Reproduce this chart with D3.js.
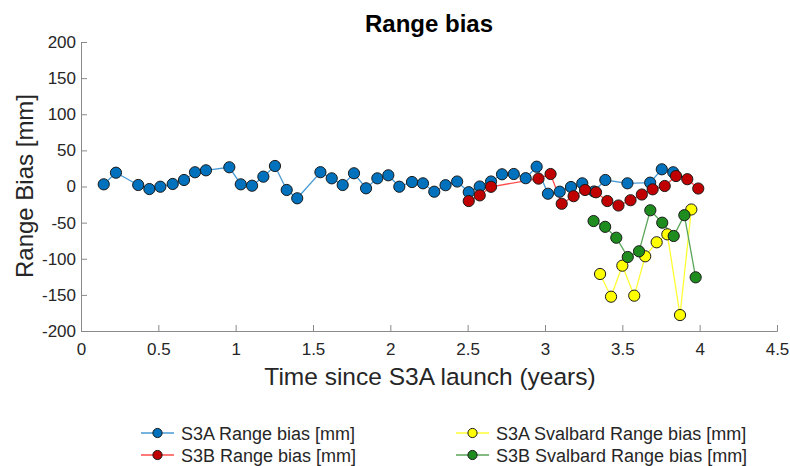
<!DOCTYPE html>
<html lang="en">
<head>
    <meta charset="UTF-8">
    <title>Range bias</title>
    <script src="https://d3js.org/d3.v7.min.js"></script>
    <style>
        body { margin: 0; background: #fff; }
        text { font-family: "Liberation Sans", Arial, sans-serif; fill: #262626; }
    </style>
</head>
<body>
    <div id="chart"></div>
    <script>
        // Years since S3A launch, range bias in mm
        var s3a_t = [0.147, 0.226, 0.370, 0.442, 0.513, 0.593, 0.666, 0.737, 0.808, 0.959,
                     1.033, 1.106, 1.179, 1.254, 1.330, 1.398, 1.548, 1.621, 1.692, 1.765,
                     1.843, 1.916, 1.987, 2.058, 2.140, 2.211, 2.284, 2.357, 2.432, 2.507,
                     2.578, 2.651, 2.722, 2.798, 2.875, 2.946, 3.019, 3.095, 3.168, 3.241,
                     3.317, 3.390, 3.533, 3.680, 3.755, 3.829];
        var s3a_bias = [3.0, 19.1, 2.1, -3.5, -0.3, 3.5, 9.0, 19.7, 22.4, 26.6,
                        3.0, 1.1, 13.6, 28.4, -4.8, -16.3, 19.8, 11.3, 2.1, 18.3,
                        -2.5, 11.3, 15.5, -0.3, 6.2, 4.4, -7.2, 1.8, 6.9, -7.9,
                        0.0, 6.9, 16.9, 17.3, 11.5, 27.4, -10.0, -7.2, -0.7, 4.4,
                        -6.9, 9.0, 4.4, 5.3, 23.8, 19.7];

        var s3b_t = [2.507, 2.578, 2.651, 2.958, 3.036, 3.108, 3.185, 3.259, 3.330, 3.403,
                     3.475, 3.553, 3.626, 3.696, 3.774, 3.847, 3.920, 3.991];
        var s3b_bias = [-20.1, -12.3, -0.4, 10.9, 17.3, -23.9, -13.4, -4.8, -8.0, -20.1,
                        -26.3, -19.0, -11.1, -3.9, 0.7, 14.5, 10.1, -2.8];

        var s3a_sval_t = [3.356, 3.427, 3.500, 3.577, 3.648, 3.722, 3.791, 3.873, 3.946];
        var s3a_sval_bias = [-121.1, -152.5, -109.6, -151.1, -96.6, -77.2, -66.2, -177.9, -31.8];

        var s3b_sval_t = [3.314, 3.389, 3.461, 3.535, 3.608, 3.681, 3.758, 3.832, 3.901, 3.974];
        var s3b_sval_bias = [-47.8, -55.8, -70.9, -97.6, -89.7, -32.9, -50.1, -68.5, -39.7, -125.7];

        var x_ticks = [0, 0.5, 1, 1.5, 2, 2.5, 3, 3.5, 4, 4.5];
        var y_ticks = [-200, -150, -100, -50, 0, 50, 100, 150, 200];

        var series = [
            {name: "S3A Range bias [mm]", t: s3a_t, v: s3a_bias, line: "#4a9ad4", fill: "#0072bd"},
            {name: "S3B Range bias [mm]", t: s3b_t, v: s3b_bias, line: "#ff4d4d", fill: "#c00000"},
            {name: "S3A Svalbard Range bias [mm]", t: s3a_sval_t, v: s3a_sval_bias, line: "#ffff33", fill: "#ffff00"},
            {name: "S3B Svalbard Range bias [mm]", t: s3b_sval_t, v: s3b_sval_bias, line: "#5aa55a", fill: "#1e8c1e"}
        ];

        function draw_chart() {
            var width = 790, height = 466;
            var plot_left = 81, plot_right = 777, plot_top = 42, plot_bottom = 331;

            var svg = d3.select("#chart")
                .append("svg")
                .attr("width", width)
                .attr("height", height);

            var x = d3.scaleLinear().domain([0, 4.5]).range([plot_left, plot_right]);
            var y = d3.scaleLinear().domain([-200, 200]).range([plot_bottom, plot_top]);

            // axes (ticks point inward), plain hyphen for negatives
            var fmt = function(d) { return String(d); };
            var xAxis = svg.append("g")
                .attr("transform", "translate(0," + plot_bottom + ")")
                .call(d3.axisBottom(x).tickValues(x_ticks).tickSize(-6).tickPadding(12).tickFormat(fmt));
            var yAxis = svg.append("g")
                .attr("transform", "translate(" + plot_left + ",0)")
                .call(d3.axisLeft(y).tickValues(y_ticks).tickSize(-6).tickPadding(5).tickFormat(fmt));

            [xAxis, yAxis].forEach(function(g) {
                g.select(".domain").attr("stroke", "#8a8a8a");
                g.selectAll(".tick line").attr("stroke", "#8a8a8a");
                g.selectAll(".tick text").style("font-size", "17px").attr("fill", "#262626")
                    .style("font-family", "'Liberation Sans', Arial, sans-serif");
            });

            // lines and markers
            var line = d3.line()
                .x(function(d) { return x(d[0]); })
                .y(function(d) { return y(d[1]); });

            series.forEach(function(s) {
                var pts = s.t.map(function(t, i) { return [t, s.v[i]]; });
                svg.append("path")
                    .datum(pts)
                    .attr("d", line)
                    .attr("fill", "none")
                    .attr("stroke", s.line)
                    .attr("stroke-width", 1.3);
            });
            series.forEach(function(s) {
                var pts = s.t.map(function(t, i) { return [t, s.v[i]]; });
                svg.selectAll(null)
                    .data(pts)
                    .enter()
                    .append("circle")
                    .attr("cx", function(d) { return x(d[0]); })
                    .attr("cy", function(d) { return y(d[1]); })
                    .attr("r", 5.6)
                    .attr("fill", s.fill)
                    .attr("stroke", "#1a1a1a")
                    .attr("stroke-width", 1);
            });

            // title and labels
            svg.append("text")
                .attr("x", 429).attr("y", 32)
                .attr("text-anchor", "middle")
                .style("font-size", "24px").style("font-weight", "bold")
                .style("fill", "#000")
                .text("Range bias");

            svg.append("text")
                .attr("x", 430).attr("y", 385)
                .attr("text-anchor", "middle")
                .style("font-size", "24.5px")
                .text("Time since S3A launch (years)");

            svg.append("text")
                .attr("transform", "translate(33,186) rotate(-90)")
                .attr("text-anchor", "middle")
                .style("font-size", "24px")
                .text("Range Bias [mm]");

            // legend
            var legendPos = [[141, 433], [141, 455], [456, 433], [456, 455]];
            series.forEach(function(s, i) {
                var lx = legendPos[i][0], ly = legendPos[i][1];
                var g = svg.append("g").attr("transform", "translate(" + lx + "," + ly + ")");
                g.append("line")
                    .attr("x1", 0).attr("x2", 33).attr("y1", 0).attr("y2", 0)
                    .attr("stroke", s.line).attr("stroke-width", 1.3);
                g.append("circle")
                    .attr("cx", 16.5).attr("cy", 0).attr("r", 4.6)
                    .attr("fill", s.fill).attr("stroke", "#1a1a1a").attr("stroke-width", 1);
                g.append("text")
                    .attr("x", 40).attr("y", 6.5)
                    .style("font-size", "18px")
                    .text(s.name);
            });
        }

        draw_chart();
    </script>
</body>
</html>
